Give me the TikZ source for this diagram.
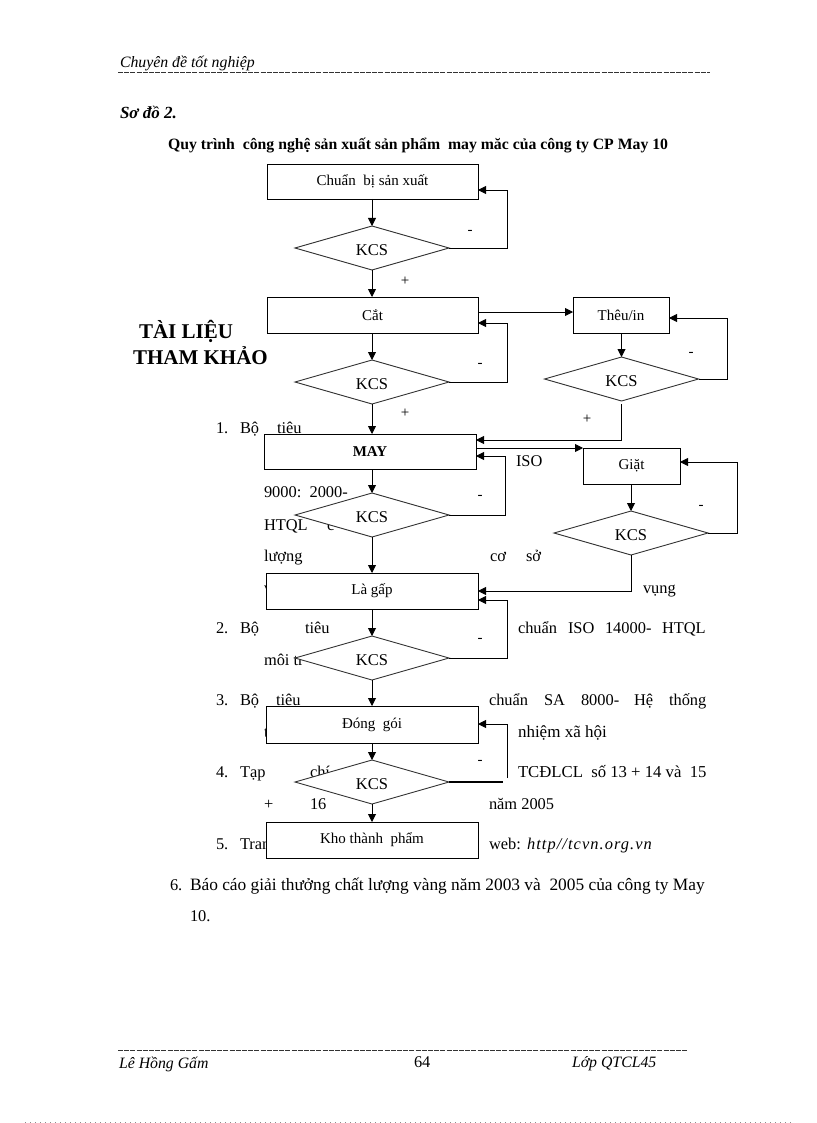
\documentclass[tikz,border=0pt]{standalone}
\usepackage{fontspec}
\setmainfont{Liberation Serif}
\usetikzlibrary{arrows.meta,shapes.geometric}
\tikzset{
  x=1pt,y=-1pt,
  every node/.style={inner sep=0,outer sep=0},
  txt/.style={anchor=base west,font=\fontsize{16.4}{16.4}\selectfont},
  hdr/.style={anchor=base west,font=\fontsize{15.8}{15.8}\itshape\selectfont},
  signmark/.style={font=\fontsize{15}{15}\selectfont},
  ttl/.style={anchor=base west,font=\fontsize{21}{21}\bfseries\selectfont},
  boxn/.style={draw=black,fill=white,line width=0.9pt,font=\fontsize{15}{15}\selectfont},
  dia/.style={draw=black!80,fill=white,line width=0.9pt,diamond,aspect=3.5,minimum width=154pt,minimum height=44pt,text height=15pt,text depth=0pt,font=\fontsize{16.5}{16.5}\selectfont},
  flow/.style={draw=black,line width=0.9pt,-{Triangle[length=8pt,width=8pt]}},
  plain/.style={draw=black,line width=0.9pt},
  rule/.style={draw=black!80,line width=0.8pt,dash pattern=on 5pt off 1.2pt},
  edgedots/.style={draw=black!45,line width=0.5pt,dash pattern=on 1pt off 4pt}
}
\newcommand{\bx}[6]{\node[boxn,minimum width=#4-#3,minimum height=#6-#5] (#1) at ({(#3+#4)/2},{(#5+#6)/2}) {#2};}
\begin{document}
\begin{tikzpicture}
\useasboundingbox (0,0) rectangle (816,1123);
% running page text
\node[hdr] (h1) at (120,68) {Chuyên đề tốt nghiệp};
\coordinate (hl) at (118,72); \coordinate (hr) at (710,72);
\draw[rule] (hl) -- (hr);
\node[anchor=base west,font=\fontsize{17}{17}\bfseries\itshape\selectfont] (h2) at (120,119) {Sơ đồ 2.};
\node[anchor=base west,font=\fontsize{15.75}{15.75}\bfseries\selectfont] (h3) at (168,150) {Quy trình\ \ công nghệ sản xuất sản phẩm\ \ may măc của công ty CP May 10};
\node[ttl] (t1) at (139,338) {TÀI LIỆU};
\node[ttl] (t2) at (133,364) {THAM KHẢO};
\node[txt] (a1) at (216,433) {1.};
\node[txt] (a2) at (240,433) {Bộ};
\node[txt] (a3) at (277,433) {tiêu};
\node[txt] (a4) at (516,466) {ISO};
\node[txt] (a5) at (264,497) {9000:\ \ 2000-};
\node[txt] (a6) at (264,530) {HTQL};
\node[txt] (a7) at (327,530) {c};
\node[txt] (a8) at (264,561) {lượng};
\node[txt] (a9) at (490,561) {cơ};
\node[txt] (a10) at (526,561) {sở};
\node[txt] (a11) at (264,593) {v};
\node[txt] (a12) at (643,593) {vụng};
\node[txt] (b1) at (216,633) {2.};
\node[txt] (b2) at (240,633) {Bộ};
\node[txt] (b3) at (305,633) {tiêu};
\node[txt] (b4) at (518,633) {chuẩn};
\node[txt] (b5) at (568,633) {ISO};
\node[txt] (b6) at (605,633) {14000-};
\node[txt] (b7) at (662,633) {HTQL};
\node[txt] (b8) at (264,665) {môi tr};
\node[txt] (c1) at (216,705) {3.};
\node[txt] (c2) at (240,705) {Bộ};
\node[txt] (c3) at (276,705) {tiêu};
\node[txt] (c4) at (489,705) {chuẩn};
\node[txt] (c5) at (544,705) {SA};
\node[txt] (c6) at (581,705) {8000-};
\node[txt] (c7) at (634,705) {Hệ};
\node[txt] (c8) at (669,705) {thống};
\node[txt] (c9) at (264,737) {t};
\node[txt,font=\fontsize{17}{17}\selectfont] (c10) at (518,737) {nhiệm xã hội};
\node[txt] (e1) at (216,777) {4.};
\node[txt] (e2) at (240,777) {Tạp};
\node[txt] (e3) at (310,777) {chí};
\node[txt,font=\fontsize{16.7}{16.7}\selectfont] (e4) at (518,777) {TCĐLCL\ \ số 13 + 14 và\ \ 15};
\node[txt] (f1) at (264,809) {+};
\node[txt] (f2) at (310,809) {16};
\node[txt] (f3) at (489,809) {năm 2005};
\node[txt] (g1) at (216,849) {5.};
\node[txt] (g2) at (240,849) {Tran};
\node[txt] (g3) at (489,849) {web:};
\node[txt,font=\fontsize{16.4}{16.4}\itshape\addfontfeature{LetterSpace=6.5}] (g4) at (527,849) {http//tcvn.org.vn};
\node[txt] (i1) at (170,890) {6.};
\node[txt,font=\fontsize{17.35}{17.35}\selectfont] (i2) at (190,890) {Báo cáo giải thưởng chất lượng vàng năm 2003 và\ \ 2005 của công ty May};
\node[txt] (i3) at (190,921) {10.};
% footer
\coordinate (fl) at (118,1050); \coordinate (fr) at (687,1050);
\draw[rule] (fl) -- (fr);
\node[hdr] (k1) at (119,1068) {Lê Hồng Gấm};
\node[txt] (k2) at (414,1067) {64};
\node[hdr] (k3) at (572,1067) {Lớp QTCL45};
\coordinate (el) at (25,1122); \coordinate (er) at (792,1122);
\draw[edgedots] (el) -- (er);
% boxes
\bx{n1}{Chuẩn\ \ bị sản xuất}{267}{478}{164}{199}
\bx{n2}{Cắt}{267}{478}{297}{333}
\bx{n3}{Thêu/in}{573}{669}{297}{333}
\bx{n4}{\textbf{MAY}}{264}{476}{434}{469}
\bx{n5}{Giặt}{583}{680}{448}{484}
\bx{n6}{Là gấp}{266}{478}{573}{609}
\bx{n7}{Đóng\ \ gói}{266}{478}{706}{743}
\bx{n8}{Kho thành\ \ phẩm}{266}{478}{822}{858}
% diamonds
\node[dia] (d1) at (372,248) {KCS};
\node[dia] (d2) at (372,382) {KCS};
\node[dia] (d3) at (621.5,379) {KCS};
\node[dia] (d4) at (372,515) {KCS};
\node[dia] (d5) at (631,533) {KCS};
\node[dia] (d6) at (372,658) {KCS};
\node[dia] (d7) at (372,782) {KCS};
% main flow
\draw[flow] (d1.north |- n1.south) -- (d1.north);
\draw[flow] (d1.south) -- (d1.south |- n2.north);
\draw[flow] (d2.north |- n2.south) -- (d2.north);
\draw[flow] (d2.south) -- (d2.south |- n4.north);
\draw[flow] (d4.north |- n4.south) -- (d4.north);
\draw[flow] (d4.south) -- (d4.south |- n6.north);
\draw[flow] (d6.north |- n6.south) -- (d6.north);
\draw[flow] (d6.south) -- (d6.south |- n7.north);
\draw[flow] (d7.north |- n7.south) -- (d7.north);
\draw[flow] (d7.south) -- (d7.south |- n8.north);
\draw[flow] (d3.north |- n3.south) -- (d3.north);
\draw[flow] (d5.north |- n5.south) -- (d5.north);
% branches
\coordinate (s1) at (478,312);
\draw[flow] (s1) -- (s1 -| n3.west);
\coordinate (s2) at (621.5,404);
\coordinate (s3) at (621.5,440);
\draw[flow] (s2) -- (s3) -- (s3 -| n4.east);
\coordinate (s4) at (477,448);
\draw[flow] (s4) -- (s4 -| n5.west);
\coordinate (s5) at (631,591);
\draw[flow] (d5.south) -- (s5) -- (s5 -| n6.east);
% feedback
\coordinate (q1) at (507,190);
\draw[flow] (d1.east) -| (q1) -- (q1 -| n1.east);
\coordinate (q2) at (507,323);
\draw[flow] (d2.east) -| (q2) -- (q2 -| n2.east);
\coordinate (q3) at (727,318);
\draw[flow] (d3.east) -| (q3) -- (q3 -| n3.east);
\coordinate (q4) at (505,456);
\draw[flow] (d4.east) -| (q4) -- (q4 -| n4.east);
\coordinate (q5) at (737,462);
\draw[flow] (d5.east) -| (q5) -- (q5 -| n5.east);
\coordinate (q6) at (507,600);
\draw[flow] (d6.east) -| (q6) -- (q6 -| n6.east);
\coordinate (q7) at (507,724);
\coordinate (q8) at (503,782);
\coordinate (q9) at (507,778);
\draw[plain,line width=1.2pt] (d7.east) -- (q8);
\draw[flow] (q9) -- (q7) -- (q7 -| n7.east);
% signs
\node[signmark] (m1) at (470,232) {-};
\node[signmark] (m2) at (405,281) {+};
\node[signmark] (m3) at (480,365) {-};
\node[signmark] (m4) at (405,413) {+};
\node[signmark] (m5) at (691,354) {-};
\node[signmark] (m6) at (587,419) {+};
\node[signmark] (m7) at (480,497) {-};
\node[signmark] (m8) at (701,507) {-};
\node[signmark] (m9) at (480,640) {-};
\node[signmark] (m10) at (480,762) {-};
\end{tikzpicture}
\end{document}
